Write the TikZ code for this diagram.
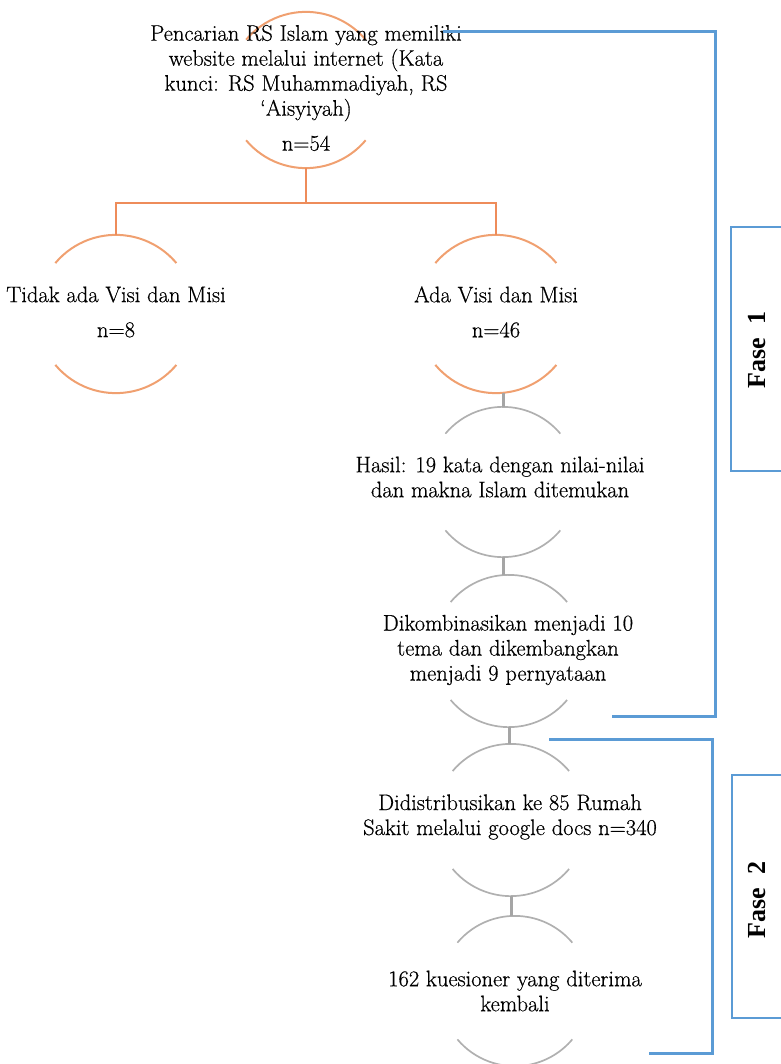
\documentclass[tikz,border=0pt]{standalone}
\usepackage{fontspec}
\setmainfont{Latin Modern Roman}[FakeBold=0.5]
\newfontfamily\fasefont{Liberation Serif}
\definecolor{arcorange}{RGB}{240,160,112}
\definecolor{linkorange}{RGB}{238,140,90}
\definecolor{arcgray}{RGB}{176,176,176}
\definecolor{linkgray}{RGB}{165,165,165}
\definecolor{phaseblue}{RGB}{91,155,213}
% top and bottom arcs of an invisible ring node
\newcommand\ringarcs[3]{%
  \draw[#3] (#1.140) arc[start angle=140,end angle=40,radius=#2];
  \draw[#3] (#1.220) arc[start angle=220,end angle=320,radius=#2];}
\begin{document}
\begin{tikzpicture}[x=1pt,y=1pt,
  ring/.style={circle,draw=none,inner sep=0pt,minimum size=#1},
  lbl/.style={align=center,font=\fontsize{22.5}{25}\selectfont,inner sep=0pt},
  orangearc/.style={draw=arcorange,line width=2pt},
  grayarc/.style={draw=arcgray,line width=1.7pt},
  orangelink/.style={draw=linkorange,line width=2.6pt},
  graylink/.style={draw=linkgray,line width=3pt},
  bracket/.style={draw=phaseblue,line width=3pt,line join=miter},
  phasebox/.style={draw=phaseblue,line width=1.5pt},
  phaselabel/.style={rotate=90,font=\fasefont\bfseries\fontsize{26}{30}\selectfont}]
\useasboundingbox (0,0) rectangle (780,-1064);

% rings
\node[ring=156pt] (c0) at (306,-90) {};
\node[ring=158pt] (c1) at (116,-314) {};
\node[ring=158pt] (c2) at (496,-314) {};
\node[ring=150pt] (c3) at (503,-482) {};
\node[ring=152pt] (c4) at (509,-651) {};
\node[ring=152pt] (c5) at (511,-820) {};
\node[ring=150pt] (c6) at (515,-991) {};

\ringarcs{c0}{78}{orangearc}
\ringarcs{c1}{79}{orangearc}
\ringarcs{c2}{79}{orangearc}
\ringarcs{c3}{75}{grayarc}
\ringarcs{c4}{76}{grayarc}
\ringarcs{c5}{76}{grayarc}
\ringarcs{c6}{75}{grayarc}

% texts
\node[lbl] (t0) at (306,-88) {Pencarian RS Islam yang memiliki\\ website melalui internet (Kata\\ kunci: RS Muhammadiyah, RS\\ `Aisyiyah)\\[10pt] n=54};
\node[lbl] (t1) at (116,-312) {Tidak ada Visi dan Misi\\[10pt] n=8};
\node[lbl] (t2) at (496,-312) {Ada Visi dan Misi\\[10pt] n=46};
\node[lbl] (t3) at (500,-477) {Hasil: 19 kata dengan nilai-nilai\\ dan makna Islam ditemukan};
\node[lbl] (t4) at (508,-650) {Dikombinasikan menjadi 10\\ tema dan dikembangkan\\ menjadi 9 pernyataan};
\node[lbl] (t5) at (510,-817) {Didistribusikan ke 85 Rumah\\ Sakit melalui google docs n=340};
\node[lbl] (t6) at (515,-991) {162 kuesioner yang diterima\\ kembali};

% connectors
\draw[orangelink] (c0.south) -- ++(0,-35) -| (c1.north);
\draw[orangelink] (c0.south) -- ++(0,-35) -| (c2.north);
\draw[graylink] (c3.north) -- (c3.north |- c2.south);
\draw[graylink] (c3.south) -- (c3.south |- c4.north);
\draw[graylink] (c4.south) -- (c4.south |- c5.north);
\draw[graylink] (c5.south) -- (c5.south |- c6.north);

% phase brackets
\coordinate (b1s) at (443,-32);
\coordinate (b1c) at (715,-32);
\coordinate (b1e) at (612,-716);
\draw[bracket] (b1s) -- (b1c) |- (b1e);
\coordinate (b2s) at (549,-739);
\coordinate (b2c) at (712,-739);
\coordinate (b2e) at (649,-1053);
\draw[bracket] (b2s) -- (b2c) |- (b2e);

% phase boxes
\draw[phasebox] (731,-227) rectangle (800,-471);
\draw[phasebox] (732,-775) rectangle (800,-1018);
\node[phaselabel] (f1) at (757,-350) {Fase\ \ 1};
\node[phaselabel] (f2) at (757,-900) {Fase\ \ 2};
\end{tikzpicture}
\end{document}
